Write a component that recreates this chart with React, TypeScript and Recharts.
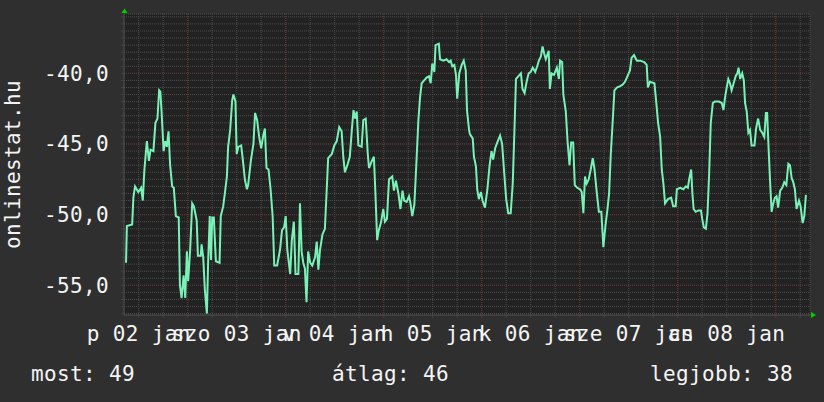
import {
  CartesianGrid,
  Customized,
  Line,
  LineChart,
  ReferenceDot,
  ReferenceLine,
  XAxis,
  YAxis
} from "recharts";

// hours since 02 jan 00:00
const hours = [
  8.9, 9.1, 10.4, 10.7, 11.1, 11.9, 12.6, 13.0, 13.4, 14.0,
  14.5, 14.9, 15.6, 16.1, 16.6, 17.0, 17.3, 17.6, 18.1, 18.5,
  18.9, 19.3, 19.7, 20.2, 20.6, 21.1, 21.8, 22.1, 22.5, 23.0,
  23.4, 23.8, 24.1, 24.6, 25.1, 25.5, 26.2, 26.5, 27.2, 27.4,
  27.8, 28.2, 28.7, 29.0, 29.4, 29.7, 30.0, 30.4, 30.9, 31.8,
  32.1, 32.7, 33.1, 33.6, 33.9, 34.4, 34.9, 35.2, 35.7, 36.0,
  36.4, 37.1, 37.5, 38.0, 38.5, 38.8, 39.5, 40.1, 40.5, 41.0,
  41.5, 42.0, 42.5, 42.9, 43.3, 43.8, 44.3, 44.8, 45.2, 45.9,
  46.6, 47.1, 47.6, 48.0, 48.4, 49.1, 49.5, 50.0, 50.4, 51.1,
  51.5, 51.9, 52.3, 52.7, 53.1, 53.5, 54.0, 54.5, 55.2, 55.6,
  56.0, 56.4, 57.0, 57.6, 58.0, 58.4, 59.3, 59.9, 60.5, 61.1,
  61.7, 62.1, 62.5, 63.2, 63.7, 64.2, 64.6, 65.0, 65.4, 65.8,
  66.6, 67.0, 67.6, 68.1, 68.4, 69.1, 69.6, 70.0, 70.4, 70.8,
  71.3, 71.9, 72.3, 72.8, 73.3, 74.1, 74.5, 75.0, 75.6, 76.1,
  76.6, 77.0, 77.6, 78.2, 78.5, 79.0, 79.5, 79.9, 80.5, 80.9,
  81.3, 81.9, 82.5, 83.1, 83.5, 83.9, 84.4, 84.7, 85.5, 85.8,
  86.6, 87.4, 88.0, 88.4, 88.8, 89.3, 89.7, 90.0, 90.5, 91.1,
  91.6, 92.1, 92.4, 92.9, 93.1, 93.8, 94.1, 94.6, 94.9, 95.3,
  95.8, 96.2, 96.8, 97.4, 97.9, 98.4, 98.8, 99.3, 99.8, 100.5,
  101.0, 101.5, 102.0, 102.5, 103.1, 103.6, 104.0, 104.4, 105.0, 105.6,
  106.0, 106.5, 107.0, 107.5, 108.0, 108.5, 109.1, 109.6, 110.0, 110.5,
  110.9, 111.3, 111.7, 112.4, 112.7, 113.1, 113.7, 114.4, 114.9, 115.2,
  115.7, 116.0, 116.6, 117.0, 117.5, 117.9, 118.4, 118.8, 119.4, 120.1,
  120.5, 120.9, 121.3, 121.7, 122.2, 122.7, 123.2, 123.6, 124.2, 124.7,
  125.3, 125.8, 126.3, 126.8, 127.2, 127.6, 128.1, 128.5, 129.1, 129.9,
  130.5, 131.1, 131.7, 132.3, 132.7, 133.3, 134.0, 134.8, 135.8, 136.4,
  136.7, 137.2, 138.3, 138.7, 139.2, 139.7, 140.1, 140.5, 140.9, 141.6,
  142.4, 142.9, 143.5, 143.8, 144.6, 145.4, 146.0, 146.5, 146.8, 147.3,
  147.6, 147.9, 148.4, 149.1, 149.7, 150.0, 150.4, 150.9, 151.3, 151.7,
  152.1, 152.6, 153.1, 154.1, 154.8, 155.2, 155.6, 156.0, 156.4, 156.8,
  157.2, 157.7, 158.2, 158.6, 158.9, 159.3, 159.8, 160.2, 160.5, 160.9,
  161.3, 161.7, 162.1, 162.8, 163.2, 163.7, 164.2, 164.7, 165.2, 165.6,
  165.9, 166.2, 166.6, 167.0, 167.4, 167.8, 168.2, 168.6, 169.1, 169.6,
  170.1, 170.6, 171.1, 171.5, 171.9, 172.3, 172.7, 173.1, 173.7, 174.1,
  174.6, 175.0, 175.4
];

const rank = [
  -53.4, -50.8, -50.7, -48.8, -48.0, -48.4, -48.1, -49.0, -46.8, -44.8,
  -46.2, -45.4, -45.5, -43.5, -43.2, -41.2, -41.3, -42.7, -45.5, -44.8,
  -45.2, -44.1, -46.5, -48.0, -48.1, -50.1, -50.2, -55.0, -55.9, -54.3,
  -55.9, -52.6, -54.7, -52.5, -49.2, -49.4, -50.4, -52.9, -52.9, -52.1,
  -53.0, -55.3, -57.0, -53.4, -50.1, -53.2, -50.2, -50.2, -53.3, -53.4,
  -50.1, -49.4, -48.5, -47.3, -45.2, -44.0, -41.9, -41.5, -42.0, -45.7,
  -45.2, -45.1, -46.1, -47.5, -48.2, -47.9, -46.1, -45.0, -42.8, -43.3,
  -44.5, -45.3, -44.4, -43.9, -46.7, -46.8, -48.2, -50.1, -53.6, -53.6,
  -52.5, -51.1, -50.9, -50.1, -52.5, -54.2, -51.8, -50.5, -54.2, -54.2,
  -49.2, -52.6, -53.4, -53.8, -56.2, -52.6, -53.4, -53.6, -53.0, -51.9,
  -53.9, -52.5, -51.4, -51.0, -48.5, -46.0, -45.7, -45.1, -44.8, -43.8,
  -44.1, -45.9, -47.0, -46.4, -45.9, -44.0, -42.6, -43.2, -42.7, -45.1,
  -45.2, -43.3, -43.2, -45.7, -46.7, -46.2, -45.9, -48.7, -51.8, -51.1,
  -50.6, -49.6, -50.5, -50.3, -47.5, -47.3, -48.3, -47.6, -48.5, -49.6,
  -48.3, -49.0, -49.1, -48.7, -49.1, -50.1, -49.3, -47.0, -43.3, -41.7,
  -40.7, -40.5, -40.3, -40.2, -40.7, -39.3, -39.9, -38.0, -37.9, -39.0,
  -39.1, -39.0, -39.2, -39.1, -39.5, -39.4, -40.1, -41.8, -40.0, -39.4,
  -39.1, -39.8, -42.6, -44.0, -44.3, -44.6, -45.9, -46.6, -48.2, -48.9,
  -48.4, -49.0, -49.5, -48.2, -46.6, -45.5, -46.1, -45.3, -44.9, -44.4,
  -45.0, -47.0, -48.9, -49.9, -49.9, -47.8, -44.2, -40.4, -40.2, -40.0,
  -41.1, -41.4, -40.6, -40.0, -39.9, -39.6, -39.9, -39.5, -39.1, -38.8,
  -38.1, -38.6, -39.0, -38.4, -41.1, -40.0, -40.1, -39.6, -40.4, -39.1,
  -39.2, -41.5, -42.7, -44.7, -46.5, -44.9, -44.9, -47.9, -48.1, -48.2,
  -48.4, -49.9, -47.3, -47.8, -47.5, -46.8, -46.0, -46.7, -48.5, -49.8,
  -49.8, -52.3, -50.8, -49.6, -48.5, -45.8, -43.3, -41.2, -41.0, -40.9,
  -40.8, -40.6, -40.2, -39.8, -38.9, -38.7, -39.1, -39.1, -39.2, -39.4,
  -41.0, -40.6, -40.7, -41.9, -43.5, -44.5, -46.8, -47.8, -49.2, -48.9,
  -48.8, -49.4, -49.4, -48.2, -48.1, -48.2, -48.0, -48.1, -47.5, -46.8,
  -48.5, -49.6, -49.8, -49.7, -49.7, -50.3, -50.9, -51.0, -49.9, -47.1,
  -43.5, -42.1, -42.0, -42.0, -42.1, -42.6, -41.7, -41.0, -40.4, -40.7,
  -41.2, -40.7, -40.2, -40.0, -39.6, -40.4, -40.0, -40.5, -42.1, -42.7,
  -44.2, -44.0, -45.1, -45.1, -43.9, -43.2, -44.0, -44.2, -44.5, -42.8,
  -42.8, -44.9, -47.5, -49.8, -49.2, -48.8, -48.7, -49.5, -48.3, -48.1,
  -47.7, -47.9, -46.4, -46.5, -47.4, -47.7, -48.2, -49.6, -49.0, -49.4,
  -50.6, -50.1, -48.6
];

const dayLabels = ["p 02 jan", "szo 03 jan", "v 04 jan", "h 05 jan", "k 06 jan", "sze 07 jan", "cs 08 jan"];
const labelHours = [12, 36, 60, 84, 108, 132, 156];
const midnightHours = [24, 48, 72, 96, 120, 144, 168];
const minorHours = [
  12, 18, 24, 30, 36, 42, 48, 54, 60, 66, 72, 78, 84, 90, 96, 102, 108, 114,
  120, 126, 132, 138, 144, 150, 156, 162, 168, 174
];
const yLabels = [-40, -45, -50, -55];
const summary = ["most: 49", "átlag: 46", "legjobb: 38"];
const title = "onlinestat.hu";

const xDomain = [8.4, 176.4];
const yDomain = [-57.1, -35.8];

const yMinor: number[] = [];
for (let v = -57; v <= -36; v += 0.5) yMinor.push(v);

const data = hours.map((h, i) => ({ h, v: rank[i] }));

const FONT = "DejaVu Sans Mono";
const TEXT = "#f4f4f4";
const GRID = "#4e4e4e";
const MAJOR = "#663030";
const LINE = "#78f2b6";
const ARROW = "#00d000";
const tickStyle = { fill: TEXT, fontSize: 21, fontFamily: FONT, letterSpacing: 0.36 };

function fmtY(v: number) {
  if (!yLabels.includes(v)) return "";
  return v.toFixed(1).replace(".", ",");
}

function fmtX(v: number) {
  const i = labelHours.indexOf(v);
  return i < 0 ? "" : dayLabels[i];
}

export default function App() {
  return (
    <div style={{ width: 824, height: 402, background: "#2f2f2f" }}>
      <style>{"body{margin:0}"}</style>
      <LineChart width={824} height={402} data={data} margin={{ top: 14, right: 14, bottom: 57, left: 24 }}>
        <CartesianGrid fill="#222222" stroke={GRID} strokeDasharray="1 1" />
        <XAxis
          dataKey="h"
          type="number"
          domain={xDomain}
          ticks={minorHours}
          interval={0}
          height={30}
          tickFormatter={fmtX}
          tick={tickStyle}
          tickSize={3}
          tickMargin={8}
          tickLine={{ stroke: "#444" }}
          axisLine={{ stroke: "#4a4a4a" }}
          allowDataOverflow
        />
        <YAxis
          type="number"
          domain={yDomain}
          ticks={yMinor}
          interval={0}
          width={100}
          tickFormatter={fmtY}
          tick={tickStyle}
          tickSize={3}
          tickMargin={12}
          tickLine={{ stroke: "#444" }}
          axisLine={{ stroke: "#4a4a4a" }}
          allowDataOverflow
        />
        {midnightHours.map((h) => (
          <ReferenceLine key={"x" + h} x={h} stroke={MAJOR} strokeDasharray="1 1" />
        ))}
        {yLabels.map((v) => (
          <ReferenceLine key={"y" + v} y={v} stroke={MAJOR} strokeDasharray="1 1" />
        ))}
        <Line
          type="linear"
          dataKey="v"
          stroke={LINE}
          strokeWidth={2}
          dot={false}
          isAnimationActive={false}
        />
        <ReferenceDot
          x={xDomain[0]}
          y={yDomain[1]}
          ifOverflow="visible"
          shape={(p: any) => (
            <polygon points={`${p.cx - 2.5},${p.cy - 1} ${p.cx + 3.5},${p.cy - 1} ${p.cx + 0.5},${p.cy - 5.5}`} fill={ARROW} />
          )}
        />
        <ReferenceDot
          x={xDomain[1]}
          y={yDomain[0]}
          ifOverflow="visible"
          shape={(p: any) => (
            <polygon points={`${p.cx + 1},${p.cy - 3} ${p.cx + 1},${p.cy + 3} ${p.cx + 6},${p.cy}`} fill={ARROW} />
          )}
        />
        <Customized
          component={
            <g fontFamily={FONT} fontSize={21} letterSpacing={0.36} fill={TEXT}>
              <text transform="translate(19.5,164.5) rotate(-90)" textAnchor="middle">
                {title}
              </text>
              <text x={31} y={381}>{summary[0]}</text>
              <text x={332} y={381}>{summary[1]}</text>
              <text x={650} y={381}>{summary[2]}</text>
            </g>
          }
        />
      </LineChart>
    </div>
  );
}
